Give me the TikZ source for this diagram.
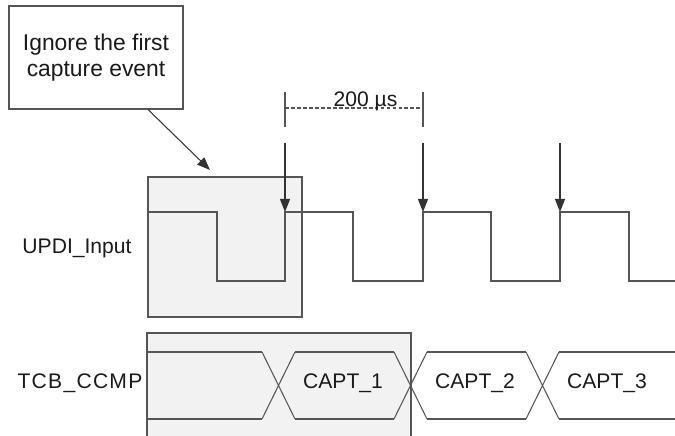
\documentclass[tikz,border=0pt]{standalone}
\usepackage{fontspec}
\setmainfont{Liberation Sans}
\usetikzlibrary{arrows.meta, positioning}
\definecolor{lineGray}{HTML}{555555}
\definecolor{boxFill}{HTML}{F2F2F2}
\definecolor{textDark}{HTML}{1A1A1A}

\begin{document}
\begin{tikzpicture}[y=-1cm, every node/.style={font=\fontsize{6}{7.4}\selectfont, text=textDark},
    sig/.style={draw=lineGray, line width=0.3pt},
    shadebox/.style={draw=lineGray, fill=boxFill, line width=0.3pt, inner sep=0pt},
    captarrow/.style={-{Triangle[length=1.3mm,width=1mm]}, draw=black!80, line width=0.3pt}]
  \useasboundingbox (0,0) rectangle (6.75,4.36);
  % ignored window
  \node[shadebox, minimum width=1.54cm, minimum height=1.40cm] (skipbox) at (2.25,2.47) {};
  \node[shadebox, minimum width=2.64cm, minimum height=1.12cm] (captbox) at (2.79,3.89) {};
  % callout
  \node[draw=lineGray, line width=0.3pt, fill=white, minimum width=1.74cm, minimum height=1.03cm,
    align=center, font=\fontsize{6.5}{7.4}\selectfont] (note) at (0.96,0.575) {Ignore the first\\capture event};
  \coordinate (notetip) at (2.10,1.70);
  \draw[captarrow] (note.-45) -- (notetip);
  % row labels
  \node (updi) at (0.77,2.48) {UPDI\_Input};
  \node (ccmp) at (0.80,3.83) {\addfontfeature{LetterSpace=6}TCB\_CCMP};
  % input signal
  \draw[sig] (1.48,2.12) -- (2.17,2.12) -- (2.17,2.81) -- (2.85,2.81) -- (2.85,2.12)
    -- (3.53,2.12) -- (3.53,2.81) -- (4.23,2.81) -- (4.23,2.12) -- (4.91,2.12)
    -- (4.91,2.81) -- (5.60,2.81) -- (5.60,2.12) -- (6.29,2.12) -- (6.29,2.81) -- (6.75,2.81);
  \foreach \x/\n in {2.85/1, 4.23/2, 5.60/3}{
    \coordinate (cap\n) at (\x,1.43); \coordinate (edge\n) at (\x,2.12);
    \draw[captarrow] (cap\n) -- (edge\n);}
  % period
  \foreach \x/\n in {2.85/A, 4.23/B}{
    \coordinate (tick\n) at (\x,0.92); \coordinate (mark\n) at (\x,1.08);
    \draw[sig] (tick\n) -- (\x,1.27);}
  \draw[sig, dash pattern=on 1.1pt off 0.6pt] (markA) -- (markB);
  \node[anchor=base] (period) at (3.655,1.065) {200 µs};
  % capture register bus
  \foreach \a/\b in {1.47/2.62, 2.95/3.94, 4.27/5.26, 5.59/6.75}{
    \draw[sig] (\a,3.52) -- (\b,3.52) (\a,4.19) -- (\b,4.19);}
  \foreach \c in {2.785, 4.105, 5.425}{
    \draw[sig] (\c-0.165,3.52) -- (\c+0.165,4.19) (\c-0.165,4.19) -- (\c+0.165,3.52);}
  \foreach \x/\n in {3.43/1, 4.75/2, 6.07/3}
    \node (capt\n) at (\x,3.83) {CAPT\_\n};
\end{tikzpicture}
\end{document}
